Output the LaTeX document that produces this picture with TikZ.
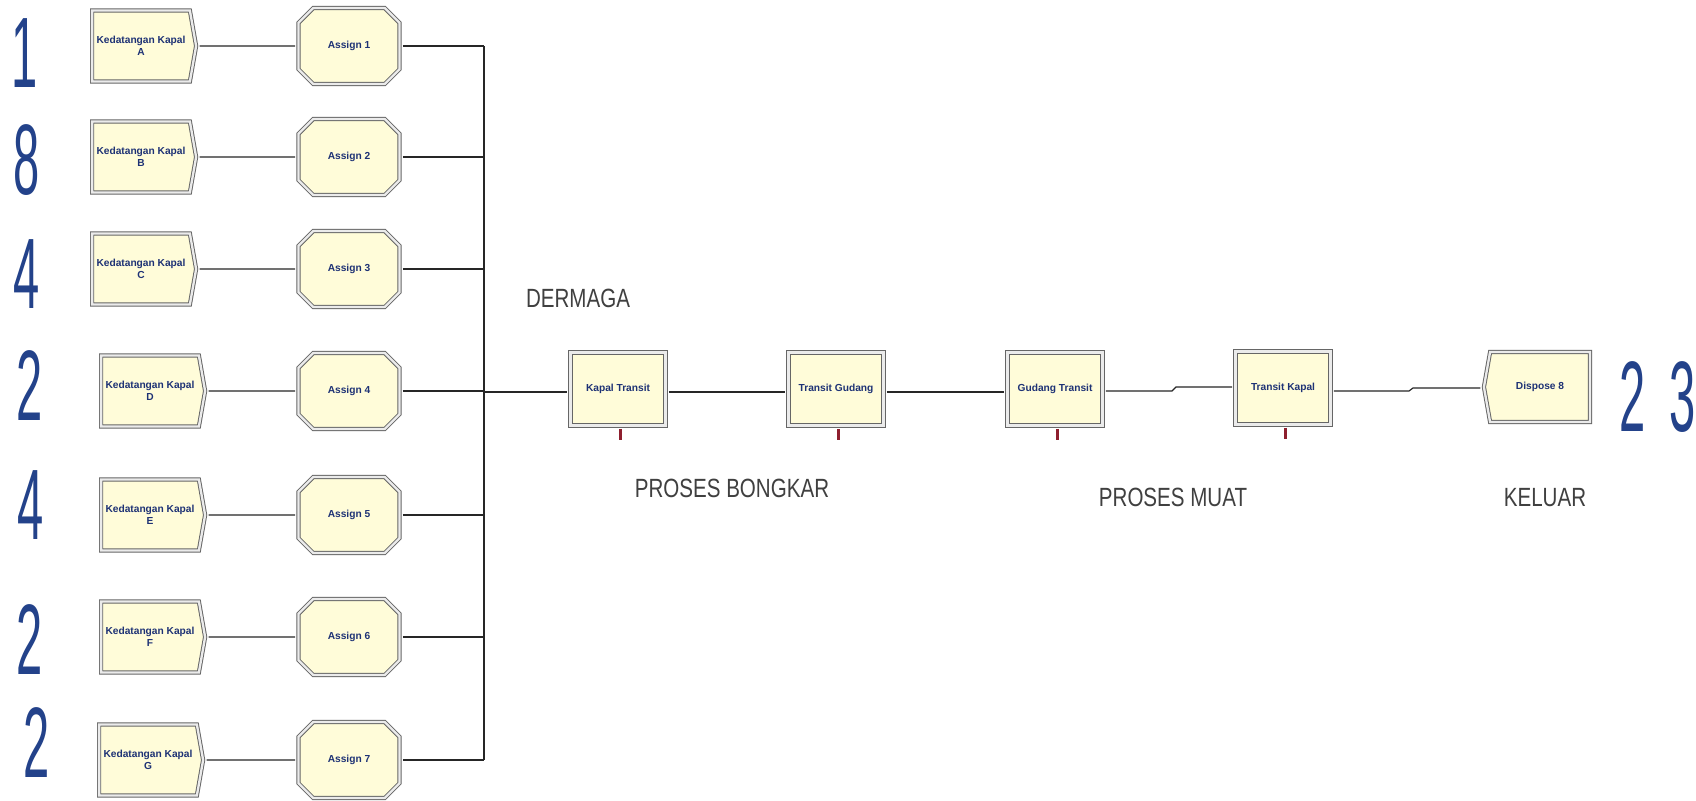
\documentclass[tikz,border=0pt]{standalone}
\usepackage{fontspec}
\setmainfont{Liberation Sans}
\usetikzlibrary{shapes.symbols,shapes.misc,calc}
\definecolor{modfill}{HTML}{FFFCD9}
\definecolor{modtext}{HTML}{1E3275}
\definecolor{numblue}{HTML}{23428A}
\definecolor{qred}{HTML}{8E1F2E}
\newcommand{\narrow}[2]{\scalebox{#1}[1]{#2}}

\begin{document}
\begin{tikzpicture}[
    x=0.2mm, y=-0.2mm,
    mod/.style={draw=black!60, double=black!8, double distance=1.3pt, line width=0.55pt, fill=modfill, inner sep=0pt, align=center, text=modtext, font=\fontsize{5.8}{6.6}\selectfont\bfseries},
    create/.style={mod, signal, signal to=east, signal pointer angle=160, minimum width=20.8mm, minimum height=14.2mm},
    assign/.style={mod, chamfered rectangle, chamfered rectangle sep=2mm, minimum width=20.2mm, minimum height=15.2mm},
    process/.style={mod, rectangle, minimum width=19mm, minimum height=14.6mm},
    dispose/.style={mod, signal, signal to=west, signal pointer angle=160, minimum width=21.2mm, minimum height=14mm},
    link/.style={draw=black!85, line width=0.65pt, shorten <=0.6mm, shorten >=0.6mm},
    qtick/.style={draw=qred, line width=0.6mm},
    lbl/.style={text=black!75, inner sep=0pt, font=\fontsize{15}{15}\selectfont},
    num/.style={text=numblue, inner sep=0pt, font=\fontsize{57}{57}\selectfont}
]
    \fill[white] (0,0) rectangle (1696,800);
    \useasboundingbox (0,0) rectangle (1696,800);

    \node[num] (n1) at (25,53) {\narrow{0.47}{1}};
    \node[num] (n2) at (27,160) {\narrow{0.47}{8}};
    \node[num] (n3) at (27,274) {\narrow{0.47}{4}};
    \node[num] (n4) at (30,386) {\narrow{0.47}{2}};
    \node[num] (n5) at (31,505) {\narrow{0.47}{4}};
    \node[num] (n6) at (30,640) {\narrow{0.47}{2}};
    \node[num] (n7) at (37,743) {\narrow{0.47}{2}};
    \node[num] (n8) at (1633,397) {\narrow{0.47}{2}};
    \node[num] (n9) at (1683,397) {\narrow{0.47}{3}};

    \node[create] (ca) at (141,46) {Kedatangan Kapal\\A};
    \node[create] (cb) at (141,157) {Kedatangan Kapal\\B};
    \node[create] (cc) at (141,269) {Kedatangan Kapal\\C};
    \node[create] (cd) at (150,391) {Kedatangan Kapal\\D};
    \node[create] (ce) at (150,515) {Kedatangan Kapal\\E};
    \node[create] (cf) at (150,637) {Kedatangan Kapal\\F};
    \node[create] (cg) at (148,760) {Kedatangan Kapal\\G};

    \node[assign] (a1) at (349,46) {Assign 1};
    \node[assign] (a2) at (349,157) {Assign 2};
    \node[assign] (a3) at (349,269) {Assign 3};
    \node[assign] (a4) at (349,391) {Assign 4};
    \node[assign] (a5) at (349,515) {Assign 5};
    \node[assign] (a6) at (349,637) {Assign 6};
    \node[assign] (a7) at (349,760) {Assign 7};

    \coordinate (bustop) at (484,46);
    \coordinate (busbot) at (484,760);
    \coordinate (busmid) at (484,392);

    \node[process] (kt) at (618,389) {Kapal Transit};
    \node[process] (tg) at (836,389) {Transit Gudang};
    \node[process] (gt) at (1055,389) {Gudang Transit};
    \node[process] (tk) at (1283,388) {Transit Kapal};
    \node[dispose] (ds) at (1540,387) {Dispose 8};

    \coordinate (jog1a) at (1172,391);
    \coordinate (jog1b) at (1176,387);
    \coordinate (jog2a) at (1409,391);
    \coordinate (jog2b) at (1413,388);

    \node[lbl] (dermaga) at (578,298) {\narrow{0.78}{DERMAGA}};
    \node[lbl] (bongkar) at (732,488) {\narrow{0.78}{PROSES BONGKAR}};
    \node[lbl] (muat) at (1173,497) {\narrow{0.78}{PROSES MUAT}};
    \node[lbl] (keluar) at (1545,498) {\narrow{0.78}{KELUAR}};

    \draw[link] (ca) -- (a1);
    \draw[link] (cb) -- (a2);
    \draw[link] (cc) -- (a3);
    \draw[link] (cd) -- (a4);
    \draw[link] (ce) -- (a5);
    \draw[link] (cf) -- (a6);
    \draw[link] (cg) -- (a7);
    \draw[link, shorten >=0pt] (a1.east) -- (a1.east -| bustop);
    \draw[link, shorten >=0pt] (a2.east) -- (a2.east -| bustop);
    \draw[link, shorten >=0pt] (a3.east) -- (a3.east -| bustop);
    \draw[link, shorten >=0pt] (a4.east) -- (a4.east -| bustop);
    \draw[link, shorten >=0pt] (a5.east) -- (a5.east -| bustop);
    \draw[link, shorten >=0pt] (a6.east) -- (a6.east -| bustop);
    \draw[link, shorten >=0pt] (a7.east) -- (a7.east -| bustop);
    \draw[link, shorten <=0pt, shorten >=0pt] (bustop) -- (busbot);
    \draw[link, shorten <=0pt] (busmid) -- (kt.west |- busmid);
    \draw[link] (kt.east |- busmid) -- (tg.west |- busmid);
    \draw[link] (tg.east |- busmid) -- (gt.west |- busmid);
    \draw[link] (gt.east |- jog1a) -- (jog1a) -- (jog1b) -- (tk.west |- jog1b);
    \draw[link] (tk.east |- jog2a) -- (jog2a) -- (jog2b) -- (ds.west |- jog2b);

    \draw[qtick] ($(kt.south)+(2,3)$) -- ++(0,11);
    \draw[qtick] ($(tg.south)+(2,3)$) -- ++(0,11);
    \draw[qtick] ($(gt.south)+(2,3)$) -- ++(0,11);
    \draw[qtick] ($(tk.south)+(2,3)$) -- ++(0,11);
\end{tikzpicture}
\end{document}
